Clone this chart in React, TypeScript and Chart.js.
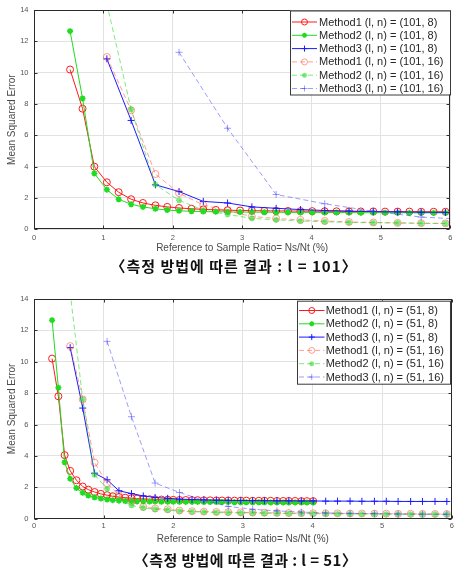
import React, { useEffect, useRef } from "react";
import { Chart, registerables } from "chart.js";

Chart.register(...registerables);

// ---------- shared ticks ----------
const xTickValues = [0, 1, 2, 3, 4, 5, 6];
const yTickValues = [0, 2, 4, 6, 8, 10, 12, 14];

const xTitle = "Reference to Sample Ratio= Ns/Nt (%)";
const yTitle = "Mean Squared Error";

// ---------- l = 101 ----------
const x101Fine = [0.52, 0.70, 0.87, 1.05, 1.22, 1.40, 1.57, 1.75, 1.92, 2.09, 2.27, 2.44, 2.62, 2.79, 2.97, 3.14, 3.32, 3.49, 3.66, 3.84, 4.01, 4.19, 4.36, 4.54, 4.71, 4.89, 5.06, 5.24, 5.41, 5.58, 5.76, 5.93];
const x101Mid = [1.05, 1.40, 1.75, 2.09, 2.44, 2.79, 3.14, 3.49, 3.84, 4.19, 4.54, 4.89, 5.24, 5.58, 5.93];
const x101Coarse = [2.09, 2.79, 3.49, 4.19, 4.89, 5.58, 6.28];

const m1n8_101 = [10.2, 7.7, 4.0, 3.0, 2.37, 1.92, 1.68, 1.53, 1.43, 1.36, 1.31, 1.27, 1.24, 1.22, 1.2, 1.19, 1.18, 1.17, 1.17, 1.16, 1.16, 1.15, 1.15, 1.14, 1.14, 1.14, 1.13, 1.13, 1.13, 1.12, 1.12, 1.12];
const m2n8_101 = [12.65, 8.35, 3.57, 2.53, 1.92, 1.6, 1.43, 1.31, 1.23, 1.18, 1.15, 1.13, 1.12, 1.11, 1.1, 1.1, 1.09, 1.09, 1.08, 1.08, 1.08, 1.07, 1.07, 1.07, 1.06, 1.06, 1.06, 1.06, 1.05, 1.05, 1.05, 1.05];
const m3n8_101 = [10.88, 6.95, 2.84, 2.41, 1.78, 1.68, 1.43, 1.34, 1.26, 1.2, 1.16, 1.13, 1.11, 1.09, 1.08];
const m1n16_101 = [11.0, 7.6, 3.53, 2.31, 1.55, 1.17, 0.82, 0.69, 0.6, 0.53, 0.47, 0.44, 0.41, 0.39, 0.38];
const m2n16_101 = [14.4, 7.65, 2.85, 1.85, 1.22, 0.95, 0.7, 0.6, 0.53, 0.48, 0.44, 0.42, 0.4, 0.38, 0.37];
const m3n16_101 = [11.3, 6.45, 2.22, 1.63, 1.15, 0.78, 0.62];

// ---------- l = 51 ----------
const x51Fine = [0.26, 0.35, 0.44, 0.52, 0.61, 0.70, 0.78, 0.87, 0.96, 1.05, 1.13, 1.22, 1.31, 1.40, 1.48, 1.57, 1.66, 1.74, 1.83, 1.92, 2.00, 2.09, 2.18, 2.27, 2.35, 2.44, 2.53, 2.62, 2.70, 2.79, 2.88, 2.97, 3.05, 3.14, 3.23, 3.31, 3.40, 3.49, 3.58, 3.66, 3.75, 3.84, 3.92, 4.01];
const x51Mid = [0.52, 0.70, 0.87, 1.05, 1.22, 1.40, 1.57, 1.74, 1.92, 2.09, 2.27, 2.44, 2.62, 2.79, 2.97, 3.14, 3.31, 3.49, 3.66, 3.84, 4.01, 4.19, 4.36, 4.54, 4.71, 4.89, 5.06, 5.23, 5.41, 5.58, 5.76, 5.93];
const x51Coarse = [1.05, 1.40, 1.74, 2.09, 2.44, 2.79, 3.14, 3.49, 3.84, 4.19, 4.54, 4.89, 5.23, 5.58, 5.93];

const m1n8_51 = [10.2, 7.8, 4.05, 3.05, 2.45, 2.05, 1.85, 1.7, 1.58, 1.5, 1.43, 1.38, 1.34, 1.31, 1.28, 1.26, 1.24, 1.23, 1.22, 1.21, 1.2, 1.19, 1.19, 1.18, 1.18, 1.17, 1.17, 1.16, 1.16, 1.16, 1.15, 1.15, 1.15, 1.14, 1.14, 1.14, 1.14, 1.13, 1.13, 1.13, 1.13, 1.12, 1.12, 1.12];
const m2n8_51 = [12.65, 8.35, 3.6, 2.55, 1.95, 1.65, 1.48, 1.36, 1.28, 1.22, 1.18, 1.15, 1.13, 1.12, 1.11, 1.1, 1.09, 1.09, 1.08, 1.08, 1.08, 1.07, 1.07, 1.07, 1.07, 1.06, 1.06, 1.06, 1.06, 1.06, 1.05, 1.05, 1.05, 1.05, 1.05, 1.05, 1.04, 1.04, 1.04, 1.04, 1.04, 1.04, 1.04, 1.04];
const m3n8_51 = [10.9, 7.05, 2.9, 2.48, 1.78, 1.6, 1.45, 1.35, 1.3, 1.25, 1.22, 1.2, 1.18, 1.17, 1.16, 1.15, 1.15, 1.14, 1.14, 1.13, 1.13, 1.12, 1.12, 1.12, 1.11, 1.11, 1.11, 1.1, 1.1, 1.1, 1.1, 1.1];
const m1n16_51 = [11.0, 7.6, 3.58, 2.25, 1.5, 1.1, 0.75, 0.65, 0.6, 0.52, 0.48, 0.45, 0.43, 0.42, 0.4, 0.39, 0.38, 0.37, 0.36, 0.35, 0.35, 0.34, 0.34, 0.33, 0.33, 0.32, 0.32, 0.31, 0.31, 0.3, 0.3, 0.3];
const m2n16_51 = [14.4, 7.6, 2.8, 1.9, 1.2, 0.85, 0.68, 0.6, 0.55, 0.48, 0.45, 0.42, 0.4, 0.38, 0.37, 0.36, 0.35, 0.34, 0.33, 0.32, 0.32, 0.31, 0.31, 0.3, 0.3, 0.29, 0.29, 0.29, 0.28, 0.28, 0.28, 0.28];
const m3n16_51 = [11.3, 6.5, 2.27, 1.67, 1.17, 0.78, 0.6, 0.5, 0.42, 0.37, 0.34, 0.32, 0.3, 0.29, 0.28];

const labels101 = [
  "Method1 (l, n) = (101, 8)",
  "Method2 (l, n) = (101, 8)",
  "Method3 (l, n) = (101, 8)",
  "Method1 (l, n) = (101, 16)",
  "Method2 (l, n) = (101, 16)",
  "Method3 (l, n) = (101, 16)",
];
const labels51 = [
  "Method1 (l, n) = (51, 8)",
  "Method2 (l, n) = (51, 8)",
  "Method3 (l, n) = (51, 8)",
  "Method1 (l, n) = (51, 16)",
  "Method2 (l, n) = (51, 16)",
  "Method3 (l, n) = (51, 16)",
];

const caption101 = "〈측정 방법에 따른 결과 : l = 101〉";
const caption51 = "〈측정 방법에 따른 결과 : l = 51〉";

// ---------- styles ----------
const styles = [
  { color: "#ff1a1a", dashed: false, marker: "circle" },
  { color: "#1fdc1f", dashed: false, marker: "star" },
  { color: "#1a1aff", dashed: false, marker: "cross" },
  { color: "rgba(255,80,60,0.55)", dashed: true, marker: "circle" },
  { color: "rgba(40,220,40,0.6)", dashed: true, marker: "star" },
  { color: "rgba(60,60,255,0.5)", dashed: true, marker: "cross" },
];

const FONT = '"Liberation Sans", Arial, sans-serif';

function makeDatasets(labels: string[], xs: number[][], ys: number[][]) {
  return labels.map((label, i) => {
    const st = styles[i];
    const r = st.marker === "circle" ? 3.5 : st.marker === "star" ? 3 : 3.5;
    return {
      label,
      data: xs[i].map((x, j) => ({ x, y: ys[i][j] })),
      borderColor: st.color,
      backgroundColor: st.color,
      borderWidth: 1,
      borderDash: st.dashed ? [5, 3] : [],
      pointStyle: st.marker === "circle" ? "circle" : st.marker === "star" ? "star" : "cross",
      pointRadius: r,
      pointHoverRadius: r,
      pointBorderColor: st.color,
      pointBackgroundColor: st.marker === "circle" ? "rgba(0,0,0,0)" : st.color,
      pointBorderWidth: st.marker === "star" ? 1.6 : 1,
      fill: false,
      tension: 0,
      order: 10 - i,
      _marker: st.marker,
      _dashed: st.dashed,
    };
  });
}

function drawMarker(ctx: CanvasRenderingContext2D, kind: string, x: number, y: number, color: string) {
  ctx.save();
  ctx.setLineDash([]);
  ctx.strokeStyle = color;
  ctx.lineWidth = kind === "star" ? 1.5 : 1;
  ctx.beginPath();
  if (kind === "circle") {
    ctx.arc(x, y, 3, 0, Math.PI * 2);
  } else if (kind === "cross") {
    ctx.moveTo(x - 3, y); ctx.lineTo(x + 3, y);
    ctx.moveTo(x, y - 3); ctx.lineTo(x, y + 3);
  } else {
    const r = 2.5;
    const d = r * 0.7071;
    ctx.moveTo(x - r, y); ctx.lineTo(x + r, y);
    ctx.moveTo(x, y - r); ctx.lineTo(x, y + r);
    ctx.moveTo(x - d, y - d); ctx.lineTo(x + d, y + d);
    ctx.moveTo(x - d, y + d); ctx.lineTo(x + d, y - d);
  }
  ctx.stroke();
  ctx.restore();
}

const frameLegendPlugin = {
  id: "frameLegend",
  afterDatasetsDraw(chart: any, _args: any, opts: any) {
    const { ctx, chartArea: a, scales } = chart;
    ctx.save();
    // inward tick marks (MATLAB style)
    ctx.strokeStyle = "#333";
    ctx.lineWidth = 1;
    ctx.setLineDash([]);
    ctx.beginPath();
    const L = Math.round(a.left) + 0.5, R = Math.round(a.right) - 0.5;
    const T = Math.round(a.top) + 0.5, B = Math.round(a.bottom) - 0.5;
    xTickValues.forEach((v) => {
      const px = Math.round(scales.x.getPixelForValue(v)) + 0.5;
      ctx.moveTo(px, B); ctx.lineTo(px, B - 3);
      ctx.moveTo(px, T); ctx.lineTo(px, T + 3);
    });
    yTickValues.forEach((v) => {
      const py = Math.round(scales.y.getPixelForValue(v)) + 0.5;
      ctx.moveTo(L, py); ctx.lineTo(L + 3, py);
      ctx.moveTo(R, py); ctx.lineTo(R - 3, py);
    });
    ctx.stroke();
    ctx.strokeStyle = "#2a2a2a";
    ctx.strokeRect(L, T, R - L, B - T);

    // legend box
    const o = opts;
    ctx.fillStyle = "#ffffff";
    ctx.fillRect(o.left, o.top, o.width, o.height);
    ctx.strokeStyle = "#3a3a3a";
    ctx.lineWidth = 1;
    ctx.strokeRect(o.left + 0.5, o.top + 0.5, o.width, o.height);
    ctx.font = `11px ${FONT}`;
    ctx.textBaseline = "middle";
    ctx.textAlign = "left";
    chart.data.datasets.forEach((ds: any, i: number) => {
      const y = o.firstY + i * o.rowH;
      ctx.save();
      ctx.strokeStyle = ds.borderColor;
      ctx.lineWidth = 1;
      ctx.setLineDash(ds._dashed ? [5, 3] : []);
      ctx.beginPath();
      ctx.moveTo(o.lineX0, y + 0.5);
      ctx.lineTo(o.lineX1, y + 0.5);
      ctx.stroke();
      ctx.restore();
      drawMarker(ctx, ds._marker, (o.lineX0 + o.lineX1) / 2, y + 0.5, ds.borderColor);
      ctx.fillStyle = "#262626";
      ctx.fillText(ds.label, o.textX, y + 1);
    });
    ctx.restore();
  },
};

type ChartProps = {
  datasets: any[];
  width: number;
  height: number;
  legend: any;
  xTickPad: number;
  xAxisHeight: number;
};

function MseChart({ datasets, width, height, legend, xTickPad, xAxisHeight }: ChartProps) {
  const ref = useRef<HTMLCanvasElement | null>(null);
  useEffect(() => {
    if (!ref.current) return;
    const chart = new Chart(ref.current, {
      type: "line",
      data: { datasets },
      options: {
        animation: false,
        responsive: false,
        devicePixelRatio: 1,
        layout: { padding: { left: 0, right: 2, top: 7.5, bottom: 0 } },
        plugins: {
          legend: { display: false },
          tooltip: { enabled: false },
          frameLegend: legend,
        } as any,
        scales: {
          x: {
            type: "linear",
            min: 0,
            max: 6,
            afterFit: (s: any) => { s.height = xAxisHeight; },
            ticks: { stepSize: 1, color: "#555", font: { size: 7.5, family: FONT }, padding: xTickPad, maxRotation: 0 },
            grid: { color: "#e2e2e2", drawTicks: false, lineWidth: 1 },
            border: { display: false },
            title: { display: true, text: xTitle, color: "#4a4a4a", font: { size: 10, family: FONT }, padding: { top: 0, bottom: 1.5 } },
          },
          y: {
            type: "linear",
            min: 0,
            max: 14,
            afterFit: (s: any) => { s.width = 34; },
            ticks: { stepSize: 2, color: "#555", font: { size: 7.5, family: FONT }, padding: 5.5 },
            grid: { color: "#e2e2e2", drawTicks: false, lineWidth: 1 },
            border: { display: false },
            title: { display: true, text: yTitle, color: "#4a4a4a", font: { size: 10, family: FONT }, padding: { top: 6.7, bottom: 0 } },
          },
        },
      } as any,
      plugins: [frameLegendPlugin],
    });
    return () => chart.destroy();
  }, []);
  return <canvas ref={ref} width={width} height={height} style={{ width, height, display: "block" }} />;
}

const datasets101 = makeDatasets(
  labels101,
  [x101Fine, x101Fine, x101Mid, x101Mid, x101Mid, x101Coarse],
  [m1n8_101, m2n8_101, m3n8_101, m1n16_101, m2n16_101, m3n16_101]
);
const datasets51 = makeDatasets(
  labels51,
  [x51Fine, x51Fine, x51Mid, x51Mid, x51Mid, x51Coarse],
  [m1n8_51, m2n8_51, m3n8_51, m1n16_51, m2n16_51, m3n16_51]
);

const captionStyle: React.CSSProperties = {
  position: "absolute",
  width: 320,
  textAlign: "center",
  fontFamily: '"Noto Sans CJK KR", "Noto Sans", sans-serif',
  fontWeight: 700,
  color: "#111",
  lineHeight: "20px",
  whiteSpace: "nowrap",
  fontSize: 15,
};

export default function App() {
  return (
    <div style={{ position: "absolute", left: 0, top: 0, width: 457, height: 574, background: "#fff", overflow: "hidden" }}>
      <div style={{ position: "absolute", left: 0, top: 0 }}>
        <MseChart
          datasets={datasets101}
          width={457}
          height={256}
          xTickPad={4.6}
          xAxisHeight={26.7}
          legend={{ left: 290, top: 10.5, width: 160, height: 84, firstY: 21.5, rowH: 13.3, lineX0: 292, lineX1: 317, textX: 319 }}
        />
      </div>
      <div style={{ ...captionStyle, left: 234 - 160, top: 256, letterSpacing: "1px" }}>{caption101}</div>
      <div style={{ position: "absolute", left: 0, top: 289 }}>
        <MseChart
          datasets={datasets51}
          width={457}
          height={258}
          xTickPad={3.2}
          xAxisHeight={28.3}
          legend={{ left: 297, top: 11.7, width: 153, height: 83, firstY: 21, rowH: 13.3, lineX0: 299, lineX1: 324.5, textX: 325.7 }}
        />
      </div>
      <div style={{ ...captionStyle, left: 245.5 - 160, top: 550, letterSpacing: "0.4px" }}>{caption51}</div>
    </div>
  );
}
